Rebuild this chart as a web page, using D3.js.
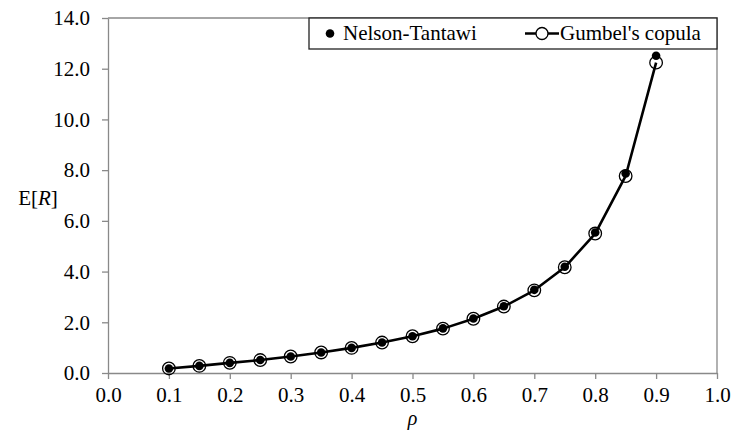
<!DOCTYPE html>
<html>
<head>
<meta charset="utf-8">
<script src="https://cdn.jsdelivr.net/npm/d3@7"></script>
<style>
  body { margin: 0; background: #fff; }
</style>
</head>
<body>
<div id="chart"></div>
<script>
// data
var rho = [0.10, 0.15, 0.20, 0.25, 0.30, 0.35, 0.40, 0.45, 0.50, 0.55, 0.60, 0.65, 0.70, 0.75, 0.80, 0.85, 0.90];
var nelsonTantawi = [0.18, 0.28, 0.40, 0.51, 0.65, 0.81, 0.99, 1.20, 1.45, 1.76, 2.15, 2.63, 3.28, 4.19, 5.54, 7.87, 12.51];
var gumbel = [0.18, 0.28, 0.40, 0.51, 0.65, 0.81, 0.99, 1.20, 1.45, 1.75, 2.14, 2.62, 3.26, 4.17, 5.50, 7.77, 12.24];
var xTicks = [0.0, 0.1, 0.2, 0.3, 0.4, 0.5, 0.6, 0.7, 0.8, 0.9, 1.0];
var yTicks = [0, 2, 4, 6, 8, 10, 12, 14];
var seriesNames = ["Nelson-Tantawi", "Gumbel's copula"];

var W = 732, H = 430;
var margin = {top: 18, right: 15, bottom: 57, left: 108},
    width = W - margin.left - margin.right,
    height = H - margin.top - margin.bottom;
var axisColor = "#898989";
var fontSize = "21px";
var serif = "'Liberation Serif', 'Times New Roman', serif";

var svg = d3.select("#chart")
  .append("svg")
  .attr("width", W)
  .attr("height", H)
  .style("font-family", serif)
  .append("g")
  .attr("transform", "translate(" + margin.left + "," + margin.top + ")");

var x = d3.scaleLinear().domain([0, 1]).range([0, width]);
var y = d3.scaleLinear().domain([0, 14]).range([height, 0]);

// plot area border (top + right)
svg.append("path")
  .attr("d", "M0,0H" + width + "V" + height)
  .attr("fill", "none")
  .attr("stroke", axisColor)
  .attr("stroke-width", 1.3);

// x axis
var xAxis = svg.append("g")
  .attr("transform", "translate(0," + height + ")")
  .call(d3.axisBottom(x).tickValues(xTicks).tickSize(6).tickSizeOuter(0).tickPadding(8).tickFormat(d3.format(".1f")));
// y axis
var yAxis = svg.append("g")
  .call(d3.axisLeft(y).tickValues(yTicks).tickSize(6).tickSizeOuter(0).tickPadding(12).tickFormat(d3.format(".1f")));

[xAxis, yAxis].forEach(function(a) {
  a.attr("font-family", null).attr("font-size", null);
  a.selectAll("path, line").attr("stroke", axisColor).attr("stroke-width", 1.3);
  a.selectAll("text").attr("fill", "#000").style("font-size", fontSize);
});

// axis titles
svg.append("text")
  .attr("x", width / 2)
  .attr("y", height + 52)
  .attr("text-anchor", "middle")
  .style("font-size", "20px")
  .style("font-style", "italic")
  .text("ρ");

var yt = svg.append("text")
  .attr("x", -70)
  .attr("y", y(7) + 9)
  .attr("text-anchor", "middle")
  .style("font-size", fontSize);
yt.append("tspan").text("E[");
yt.append("tspan").style("font-style", "italic").text("R");
yt.append("tspan").text("]");

// gumbel line
var line = d3.line()
  .x(function(d, i) { return x(rho[i]); })
  .y(function(d) { return y(d); });

svg.append("path")
  .datum(gumbel)
  .attr("d", line)
  .attr("fill", "none")
  .attr("stroke", "#000")
  .attr("stroke-width", 2.6)
  .attr("stroke-linejoin", "round");

svg.selectAll(".gum")
  .data(gumbel)
  .enter()
  .append("circle")
  .attr("class", "gum")
  .attr("cx", function(d, i) { return x(rho[i]); })
  .attr("cy", function(d) { return y(d); })
  .attr("r", 6.3)
  .attr("fill", "none")
  .attr("stroke", "#000")
  .attr("stroke-width", 1.3);

svg.selectAll(".nt")
  .data(nelsonTantawi)
  .enter()
  .append("circle")
  .attr("class", "nt")
  .attr("cx", function(d, i) { return x(rho[i]); })
  .attr("cy", function(d) { return y(d); })
  .attr("r", 4.3)
  .attr("fill", "#000");

// legend
var lg = svg.append("g").attr("transform", "translate(" + (309 - margin.left) + ",0)");
lg.append("rect")
  .attr("x", 0)
  .attr("y", 0)
  .attr("width", width - (309 - margin.left))
  .attr("height", 31)
  .attr("fill", "#fff")
  .attr("stroke", "#222")
  .attr("stroke-width", 1.3);

lg.append("circle")
  .attr("cx", 21)
  .attr("cy", 15.5)
  .attr("r", 4.3)
  .attr("fill", "#000");
lg.append("text")
  .attr("x", 34)
  .attr("y", 21.5)
  .style("font-size", fontSize)
  .text(seriesNames[0]);

lg.append("line")
  .attr("x1", 216).attr("x2", 250)
  .attr("y1", 15.5).attr("y2", 15.5)
  .attr("stroke", "#000")
  .attr("stroke-width", 2.6);
lg.append("circle")
  .attr("cx", 233)
  .attr("cy", 15.5)
  .attr("r", 6)
  .attr("fill", "#fff")
  .attr("stroke", "#000")
  .attr("stroke-width", 1.3);
lg.append("text")
  .attr("x", 251)
  .attr("y", 21.5)
  .style("font-size", fontSize)
  .text(seriesNames[1]);
</script>
</body>
</html>
